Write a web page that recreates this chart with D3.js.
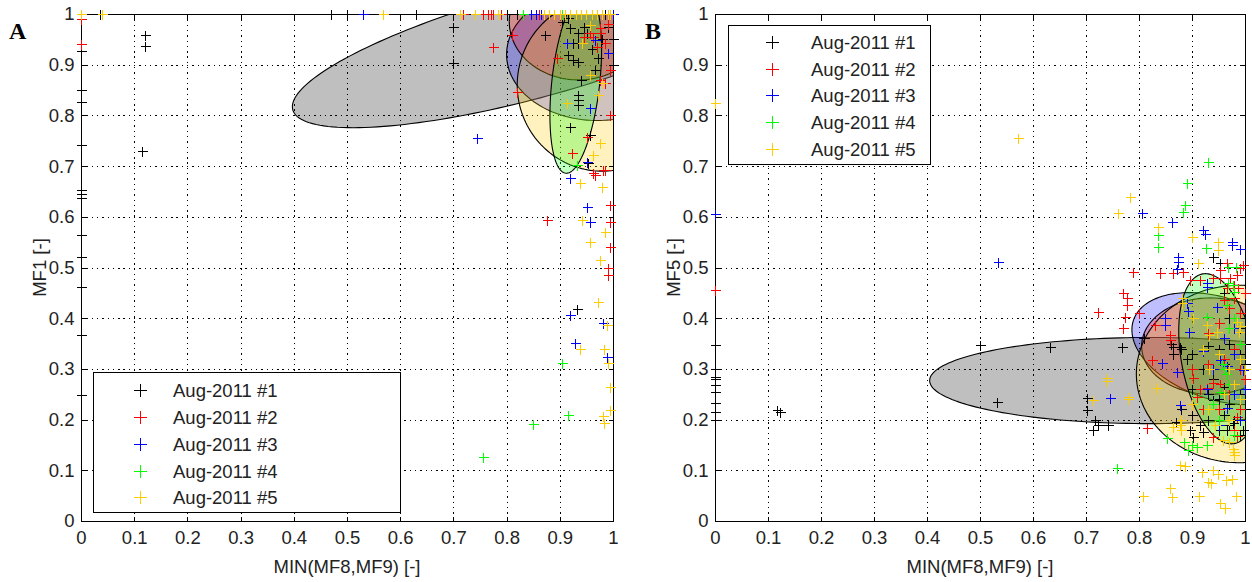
<!DOCTYPE html>
<html><head><meta charset="utf-8">
<script src="https://cdn.jsdelivr.net/npm/d3@7"></script>
<style>body{margin:0;background:#fff}svg{display:block}</style>
</head><body><svg id="c" width="1252" height="582"></svg>
<script>
// ---------- data ----------
const seriesNames = ["Aug-2011 #1", "Aug-2011 #2", "Aug-2011 #3", "Aug-2011 #4", "Aug-2011 #5"];
const seriesColors = ["#000000", "#ff0000", "#0000ff", "#00ff00", "#ffcc00"];
const xTicks = [0, 0.1, 0.2, 0.3, 0.4, 0.5, 0.6, 0.7, 0.8, 0.9, 1];
const yTicks = [0, 0.1, 0.2, 0.3, 0.4, 0.5, 0.6, 0.7, 0.8, 0.9, 1];
const xLabel = "MIN(MF8,MF9) [-]";
const yLabelA = "MF1 [-]";
const yLabelB = "MF5 [-]";

// Panel A points [MIN(MF8,MF9), MF1]
const a1 = [[0.12,0.958],[0.12,0.937],[0.115,0.73],[0.70,0.975],[0.70,0.903],[0.872,0.958],
 [0.915,0.992],[0.919,0.972],[0.934,0.962],[0.951,0.962],[0.925,0.943],[0.934,0.943],[0.915,0.919],
 [0.925,0.909],[0.934,0.905],[0.972,0.913],[0.966,0.89],[0.991,0.975],[0.934,0.84],[0.934,0.83],
 [0.934,0.82],[0.919,0.777],[0.957,0.761],[0.953,0.706],[0.932,0.418],[0.905,0.985],[0.945,0.975],
 [0.96,0.93],[0.98,0.95],[0.94,0.87],[1.0,0.9],[1.0,0.95],
 [0,0.928],[0,0.85],[0,0.827],[0,0.742],[0,0.653],[0,0.645],[0,0.637],[0,0.564],[0,0.521],[0,0.462],[0,0.367],[0,0.248],
 [0.036,1],[0.47,1],[0.5,1],[0.63,1],[0.80,1],[0.82,1],[0.90,1],[0.94,1],[0.97,1],[0.985,1]];
const a2 = [[0.774,0.935],[0.81,0.958],[0.876,0.594],[0.82,0.846],[0.895,0.913],[0.957,0.962],[0.963,0.955],
 [0.976,0.962],[0.976,0.972],[0.985,0.943],[0.991,0.98],[0.994,0.89],[0.976,0.87],[0.985,0.864],[0.951,0.757],
 [0.923,0.726],[0.981,0.692],[0.962,0.686],[0.994,0.80],[0.966,0.682],[0.985,0.692],[0.994,0.623],[0.994,0.59],
 [0.994,0.54],[0.991,0.499],[0.991,0.485],[0.945,0.955],[0.97,0.935],
 [0,0.99],[0,0.94],
 [0.718,1],[0.756,1],[0.765,1],[0.77,1],[0.775,1],[0.79,1],[0.86,1],[0.88,1],[0.9,1],[0.93,1],[0.95,1],[0.97,1],[0.99,1]];
const a3 = [[0.744,0.755],[0.913,0.943],[0.966,0.949],[0.991,0.923],[0.957,0.815],[0.919,0.676],[0.951,0.708],
 [0.951,0.62],[0.957,0.59],[0.919,0.406],[0.929,0.351],[0.981,0.39],[0.989,0.323],
 [0.53,1],[0.83,1],[0.845,1],[0.855,1],[0.865,1],[0.9,1],[0.95,1],[0.99,1],[1.0,1]];
const a4 = [[0.932,0.702],[0.904,0.312],[0.915,0.209],[0.85,0.191],[0.756,0.126],
 [0.83,1],[0.87,1],[0.905,1],[0.96,1]];
const a5 = [[0.942,0.943],[0.957,0.978],[0.913,0.824],[0.979,0.864],[0.972,0.84],[0.957,0.88],[0.976,0.745],
 [0.962,0.722],[0.938,0.666],[0.979,0.659],[0.942,0.594],[0.985,0.57],[0.957,0.55],[0.976,0.515],[0.972,0.432],
 [0.989,0.386],[0.938,0.339],[0.983,0.339],[0.991,0.312],[0.994,0.265],[0.994,0.219],[0.981,0.207],[0.983,0.193],
 [0,1.0],
 [0.04,1],[0.568,1],[0.712,1],[0.74,1],[0.784,1],[0.87,1],[0.88,1],[0.89,1],[0.9,1],[0.91,1],[0.92,1],[0.93,1],
 [0.94,1],[0.95,1],[0.96,1],[0.97,1],[0.98,1],[0.99,1],[0.995,1]];

// Panel B points [MIN(MF8,MF9), MF5]
const b1 = [[0.117,0.219],[0.122,0.215],[0.5,0.347],[0.532,0.235],[0.632,0.343],[0.768,0.343],[0.702,0.242],
 [0.702,0.219],[0.717,0.199],[0.723,0.189],[0.713,0.179],[0.742,0.189],[0.864,0.343],[0.864,0.33],[0.877,0.343],
 [0.94,0.52],[0.953,0.509],[0.86,0.35],[0.88,0.34],[0.89,0.32],[0.9,0.33],[0.93,0.345],[0.95,0.34],[0.97,0.35],
 [0.99,0.33],[1.0,0.31],[0.96,0.31],[0.92,0.3],[0.94,0.28],[0.98,0.27],[0.9,0.26],[0.93,0.25],[0.95,0.24],
 [0.97,0.23],[0.99,0.25],[0.88,0.22],[0.9,0.21],[0.93,0.2],[0.96,0.21],[0.98,0.2],[0.97,0.19],[0.95,0.18],
 [0.92,0.175],[0.99,0.17],[1.0,0.22],[0.87,0.195],[0.96,0.265],[0.81,0.36],[0.896,0.179],[0.902,0.166],
 [0.915,0.189],[0.966,0.179],[0.977,0.193],[0.94,0.239],[0.996,0.179],[0.96,0.45],[0.97,0.4],[0.99,0.38],[1.0,0.35],
 [0,0.347],[0,0.30],[0,0.284],[0,0.28],[0,0.268],[0,0.254],[0,0.232],[0,0.215],[0,0.2]];
const b2 = [[0,0.455],[0.789,0.491],[0.84,0.489],[0.864,0.489],[0.883,0.491],[0.77,0.45],[0.777,0.44],[0.777,0.426],
 [0.774,0.402],[0.77,0.38],[0.723,0.412],[0.83,0.387],[0.858,0.367],[0.858,0.357],[0.896,0.475],[0.915,0.475],
 [0.953,0.495],[0.966,0.509],[0.972,0.48],[0.979,0.466],[0.987,0.46],[0.953,0.48],[0.991,0.5],[0.966,0.46],
 [0.979,0.44],[0.96,0.435],[0.997,0.505],[0.985,0.485],[0.94,0.48],[0.815,0.183],[0.825,0.318],[0.902,0.282],
 [0.909,0.245],[0.915,0.26],[0.928,0.262],[0.94,0.272],[0.953,0.27],[0.985,0.205],[0.98,0.18],[0.985,0.168],
 [0.94,0.166],[0.8,0.41],[0.9,0.3],[0.93,0.31],[0.96,0.32],[0.98,0.34],[0.99,0.3],[1.0,0.28],[0.97,0.25],
 [0.95,0.22],[0.99,0.22],[0.92,0.22],[0.97,0.42],[0.99,0.41],[0.95,0.39],[1.0,0.45],[0.93,0.37]];
const b3 = [[0,0.605],[0.534,0.511],[0.806,0.607],[0.862,0.59],[0.921,0.574],[0.925,0.566],[0.975,0.55],[0.975,0.545],
 [0.991,0.536],[0.874,0.521],[0.874,0.511],[0.872,0.498],[0.928,0.469],[0.928,0.462],[0.947,0.422],[0.849,0.40],
 [0.849,0.387],[0.891,0.43],[0.893,0.415],[0.895,0.372],[0.98,0.38],[0.843,0.311],[0.745,0.242],[0.872,0.294],
 [0.877,0.229],[0.928,0.26],[0.94,0.3],[0.953,0.317],[0.966,0.305],[0.98,0.25],[0.997,0.297],[0.966,0.222],
 [0.92,0.335],[0.98,0.33],[0.95,0.19],[0.99,0.2],[1.0,0.26],[0.96,0.36],[0.99,0.35]];
const b4 = [[0.93,0.708],[0.89,0.666],[0.887,0.623],[0.883,0.61],[0.836,0.565],[0.836,0.541],[0.926,0.538],
 [0.968,0.501],[0.983,0.501],[0.968,0.47],[0.977,0.466],[0.98,0.452],[0.966,0.426],[0.928,0.402],[0.853,0.164],
 [0.758,0.104],[0.892,0.14],[0.9,0.15],[0.928,0.15],[0.956,0.31],[0.96,0.3],[0.965,0.29],[0.953,0.255],[0.97,0.27],
 [0.94,0.23],[0.98,0.17],[0.95,0.2],[0.99,0.35],[0.97,0.38],[0.98,0.4],[0.91,0.145],[0.885,0.155]];
const b5 = [[0,0.824],[0.572,0.755],[0.783,0.639],[0.76,0.607],[0.836,0.58],[0.9,0.56],[0.949,0.55],[0.949,0.534],
 [0.911,0.509],[0.881,0.44],[0.881,0.43],[0.902,0.40],[0.928,0.387],[0.985,0.392],[0.99,0.385],[0.988,0.372],
 [0.932,0.367],[0.947,0.372],[0.74,0.282],[0.74,0.277],[0.713,0.239],[0.779,0.245],[0.779,0.24],[0.834,0.262],
 [0.864,0.185],[0.877,0.189],[0.88,0.18],[0.943,0.189],[0.958,0.16],[0.97,0.156],[0.977,0.142],[0.979,0.136],
 [0.98,0.13],[0.877,0.11],[0.887,0.108],[0.919,0.097],[0.94,0.1],[0.949,0.093],[0.93,0.077],[0.936,0.075],
 [0.965,0.08],[0.975,0.083],[0.858,0.065],[0.862,0.047],[0.808,0.049],[0.913,0.049],[0.962,0.026],[0.983,0.049],
 [0.953,0.035],[0.932,0.3],[0.95,0.33],[0.97,0.3],[0.99,0.32],[1.0,0.3],[0.98,0.27],[0.96,0.25],[0.92,0.34],
 [0.93,0.22],[0.88,0.2],[0.9,0.23],[0.97,0.2],[0.99,0.24]];

// Ellipses: [series index, centre x, centre y, semi-axis a, semi-axis b, angle of a (deg)]
const ellipsesA = [[0,0.85,0.94,0.47,0.105,16],[2,0.97,0.92,0.17,0.13,0],[1,0.935,0.985,0.13,0.115,0],
 [4,0.98,0.86,0.16,0.17,0],[3,0.93,0.865,0.18,0.045,84]];
const ellipsesB = [[0,0.82,0.277,0.415,0.085,0],[2,0.95,0.34,0.17,0.10,-20],[1,0.935,0.345,0.13,0.095,0],
 [4,0.99,0.29,0.195,0.175,0],[3,0.95,0.32,0.17,0.07,100]];

// ---------- drawing ----------
const svg = d3.select("#c");
const FONT = "'Liberation Sans', Arial, Helvetica, sans-serif";
const TXT = "#222";

function drawPanel(p) {
  const x = d3.scaleLinear().domain([0, 1]).range([p.left, p.right]);
  const y = d3.scaleLinear().domain([0, 1]).range([p.bottom, p.top]);
  const g = svg.append("g");
  const clipId = "clip" + p.id;
  svg.append("defs").append("clipPath").attr("id", clipId)
    .append("rect").attr("x", p.left).attr("y", p.top)
    .attr("width", p.right - p.left).attr("height", p.bottom - p.top);

  // grid
  const grid = g.append("g").attr("stroke", "#000").attr("stroke-width", 1)
    .attr("stroke-dasharray", "1.4,3.9").attr("shape-rendering", "crispEdges");
  xTicks.filter(t => t > 0 && t < 1).forEach(t => {
    const px = Math.round(x(t)) + 0.5;
    grid.append("line").attr("x1", px).attr("x2", px).attr("y1", p.top).attr("y2", p.bottom);
  });
  yTicks.filter(t => t > 0 && t < 1).forEach(t => {
    const py = Math.round(y(t)) + 0.5;
    grid.append("line").attr("x1", p.left).attr("x2", p.right).attr("y1", py).attr("y2", py);
  });

  // ellipses
  const eg = g.append("g").attr("clip-path", `url(#${clipId})`);
  const line = d3.line().x(d => x(d[0])).y(d => y(d[1])).curve(d3.curveLinearClosed);
  p.ellipses.forEach(e => {
    const [si, cx, cy, a, b, ang] = e;
    const th = ang * Math.PI / 180;
    const pts = d3.range(0, 360, 2).map(deg => {
      const f = deg * Math.PI / 180;
      return [cx + a * Math.cos(th) * Math.cos(f) - b * Math.sin(th) * Math.sin(f),
              cy + a * Math.sin(th) * Math.cos(f) + b * Math.cos(th) * Math.sin(f)];
    });
    eg.append("path").attr("d", line(pts)).attr("fill", seriesColors[si]).attr("fill-opacity", 0.25)
      .attr("stroke", "#000").attr("stroke-width", 1.1);
  });

  // frame + ticks
  g.append("rect").attr("x", p.left + 0.5).attr("y", p.top + 0.5)
    .attr("width", p.right - p.left).attr("height", p.bottom - p.top)
    .attr("fill", "none").attr("stroke", "#000").attr("stroke-width", 1).attr("shape-rendering", "crispEdges");
  const axB = d3.axisBottom(x).tickValues(xTicks).tickSize(-5).tickFormat(d3.format("~g")).tickPadding(9);
  const axL = d3.axisLeft(y).tickValues(yTicks).tickSize(-5).tickFormat(d3.format("~g")).tickPadding(7);
  const axT = d3.axisTop(x).tickValues(xTicks).tickSize(-5).tickFormat("");
  const axR = d3.axisRight(y).tickValues(yTicks).tickSize(-5).tickFormat("");
  [[axB, `translate(0,${p.bottom + 0.5})`], [axL, `translate(${p.left + 0.5},0)`],
   [axT, `translate(0,${p.top + 0.5})`], [axR, `translate(${p.right + 0.5},0)`]].forEach(([ax, tr]) => {
    const a = g.append("g").attr("transform", tr).call(ax);
    a.select(".domain").remove();
    a.selectAll("line").attr("stroke", "#000").attr("shape-rendering", "crispEdges");
    a.selectAll("text").attr("font-family", FONT).attr("font-size", 18.5).attr("fill", TXT);
  });

  // markers
  p.series.forEach((data, si) => {
    const mg = g.append("g").attr("stroke", seriesColors[si]).attr("stroke-width", 1)
      .attr("fill", "none").attr("shape-rendering", "crispEdges");
    data.forEach(d => {
      const px = Math.round(x(d[0])) + 0.5, py = Math.round(y(d[1])) + 0.5;
      mg.append("path").attr("d", `M${px - 5},${py}H${px + 5}M${px},${py - 5}V${py + 5}`);
    });
  });

  // axis titles
  g.append("text").attr("x", (p.left + p.right) / 2).attr("y", 573).attr("text-anchor", "middle")
    .attr("font-family", FONT).attr("font-size", 18.5).attr("fill", TXT).text(xLabel);
  g.append("text").attr("transform", `translate(${p.ytitleX},${(p.top + p.bottom) / 2}) rotate(-90)`)
    .attr("text-anchor", "middle").attr("font-family", FONT).attr("font-size", 18.5).attr("fill", TXT).text(p.ylabel);

  // panel letter
  g.append("text").attr("x", p.letterX).attr("y", 39).attr("font-family", "'Liberation Serif', 'Times New Roman', serif")
    .attr("font-weight", "bold").attr("font-size", 24).attr("fill", "#000").text(p.letter);

  // legend
  const L = p.legend;
  const lg = g.append("g");
  lg.append("rect").attr("x", L.x + 0.5).attr("y", L.y + 0.5).attr("width", L.w).attr("height", L.h)
    .attr("fill", "#fff").attr("stroke", "#000").attr("stroke-width", 1).attr("shape-rendering", "crispEdges");
  seriesNames.forEach((name, i) => {
    const ry = L.rows[i];
    lg.append("path").attr("d", `M${L.mx - 6.5},${ry + 0.5}H${L.mx + 6.5}M${L.mx + 0.5},${ry - 6}V${ry + 7}`)
      .attr("stroke", seriesColors[i]).attr("stroke-width", 1).attr("shape-rendering", "crispEdges");
    lg.append("text").attr("x", L.tx).attr("y", ry).attr("dy", "0.36em").attr("font-family", FONT)
      .attr("font-size", 18.5).attr("fill", TXT).text(name);
  });
}

drawPanel({id: "A", left: 81, right: 613, top: 14, bottom: 521, letter: "A", letterX: 9, ytitleX: 46,
  ylabel: yLabelA, series: [a1, a2, a3, a4, a5], ellipses: ellipsesA,
  legend: {x: 93, y: 372, w: 307, h: 140, mx: 140, tx: 173, rows: [390, 417, 444, 471, 497]}});
drawPanel({id: "B", left: 715, right: 1245, top: 14, bottom: 521, letter: "B", letterX: 645, ytitleX: 680,
  ylabel: yLabelB, series: [b1, b2, b3, b4, b5], ellipses: ellipsesB,
  legend: {x: 728, y: 25, w: 202, h: 139, mx: 772, tx: 811, rows: [42, 69, 95, 122, 149]}});
</script>
</body></html>
